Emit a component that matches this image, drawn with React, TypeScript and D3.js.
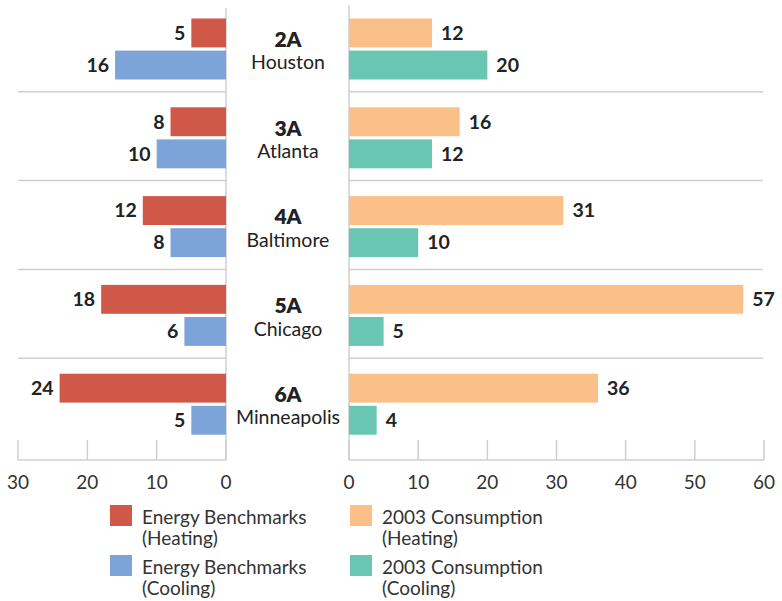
import React from "react";
import * as d3 from "d3";

const zones = ["2A", "3A", "4A", "5A", "6A"];
const cities = ["Houston", "Atlanta", "Baltimore", "Chicago", "Minneapolis"];
const benchHeating = [5, 8, 12, 18, 24];
const benchCooling = [16, 10, 8, 6, 5];
const consHeating = [12, 16, 31, 57, 36];
const consCooling = [20, 12, 10, 5, 4];
const leftTicks = [30, 20, 10, 0];
const rightTicks = [0, 10, 20, 30, 40, 50, 60];
const legendItems = [
  { l1: "Energy Benchmarks", l2: "(Heating)", color: "#cf5849" },
  { l1: "Energy Benchmarks", l2: "(Cooling)", color: "#7ca4d8" },
  { l1: "2003 Consumption", l2: "(Heating)", color: "#fbc088" },
  { l1: "2003 Consumption", l2: "(Cooling)", color: "#68c6b2" },
];

const W = 782;
const H = 601;
const FONT = "Lato, 'Noto Sans', sans-serif";
const GRID = "#cfcfcf";

export default function App() {
  const xL = d3.scaleLinear().domain([0, 30]).range([226, 18]);
  const xR = d3.scaleLinear().domain([0, 60]).range([349, 764]);
  const y = d3.scaleBand<string>().domain(zones).range([3, 447]).padding(0);
  const inner = d3
    .scaleBand<string>()
    .domain(["heat", "cool"])
    .range([15.5, 76.5])
    .paddingInner(0.1);
  const axisY = 460;
  const labelX = 288;

  return (
    <svg
      width={W}
      height={H}
      style={{ position: "absolute", left: 0, top: 0, background: "#fff" }}
      fontFamily={FONT}
    >
      {zones.slice(1).map((z) => (
        <g key={"sep" + z}>
          <line x1={18} x2={xL(0)} y1={y(z)!} y2={y(z)!} stroke={GRID} strokeWidth={1.5} />
          <line x1={xR(0)} x2={763} y1={y(z)!} y2={y(z)!} stroke={GRID} strokeWidth={1.5} />
        </g>
      ))}
      <line x1={xL(0)} x2={xL(0)} y1={8} y2={axisY} stroke={GRID} strokeWidth={1.5} />
      <line x1={xR(0)} x2={xR(0)} y1={5} y2={axisY} stroke={GRID} strokeWidth={1.5} />

      {zones.map((z, i) => {
        const y0 = y(z)!;
        const yh = y0 + inner("heat")!;
        const yc = y0 + inner("cool")!;
        const bh = inner.bandwidth();
        const c = y0 + y.bandwidth() / 2;
        return (
          <g key={z}>
            <rect x={xL(benchHeating[i])} y={yh} width={xL(0) - xL(benchHeating[i])} height={bh} fill={legendItems[0].color} />
            <rect x={xL(benchCooling[i])} y={yc} width={xL(0) - xL(benchCooling[i])} height={bh} fill={legendItems[1].color} />
            <rect x={xR(0)} y={yh} width={xR(consHeating[i]) - xR(0)} height={bh} fill={legendItems[2].color} />
            <rect x={xR(0)} y={yc} width={xR(consCooling[i]) - xR(0)} height={bh} fill={legendItems[3].color} />
            <text x={xL(benchHeating[i]) - 6} y={yh + bh / 2} dy="0.35em" textAnchor="end" fontSize={19.5} fontWeight={700} fill="#222">{benchHeating[i]}</text>
            <text x={xL(benchCooling[i]) - 6} y={yc + bh / 2} dy="0.35em" textAnchor="end" fontSize={19.5} fontWeight={700} fill="#222">{benchCooling[i]}</text>
            <text x={xR(consHeating[i]) + 9} y={yh + bh / 2} dy="0.35em" textAnchor="start" fontSize={19.5} fontWeight={700} fill="#222">{consHeating[i]}</text>
            <text x={xR(consCooling[i]) + 9} y={yc + bh / 2} dy="0.35em" textAnchor="start" fontSize={19.5} fontWeight={700} fill="#222">{consCooling[i]}</text>
            <text x={labelX} y={c - 8} dy="0.35em" textAnchor="middle" fontSize={21} fontWeight={800} fill="#222">{z}</text>
            <text x={labelX} y={c + 15} dy="0.35em" textAnchor="middle" fontSize={19.5} fill="#222">{cities[i]}</text>
          </g>
        );
      })}

      <line x1={xL(30)} x2={xL(0)} y1={axisY} y2={axisY} stroke={GRID} strokeWidth={1.5} />
      <line x1={xR(0)} x2={xR(60)} y1={axisY} y2={axisY} stroke={GRID} strokeWidth={1.5} />
      {leftTicks.map((t) => (
        <g key={"lt" + t}>
          <line x1={xL(t)} x2={xL(t)} y1={axisY - 20} y2={axisY} stroke={GRID} strokeWidth={1.5} />
          <text x={xL(t)} y={482} dy="0.35em" textAnchor="middle" fontSize={19} fill="#333">{t}</text>
        </g>
      ))}
      {rightTicks.map((t) => (
        <g key={"rt" + t}>
          <line x1={xR(t)} x2={xR(t)} y1={axisY - 20} y2={axisY} stroke={GRID} strokeWidth={1.5} />
          <text x={xR(t)} y={482} dy="0.35em" textAnchor="middle" fontSize={19} fill="#333">{t}</text>
        </g>
      ))}

      {legendItems.map((it, i) => {
        const col = i < 2 ? 0 : 1;
        const row = i % 2;
        const sx = col === 0 ? 110 : 350;
        const sy = row === 0 ? 505 : 555;
        return (
          <g key={"lg" + i}>
            <rect x={sx} y={sy} width={22} height={21} fill={it.color} />
            <text x={sx + 32} y={sy + 12} dy="0.35em" fontSize={19} fill="#333">{it.l1}</text>
            <text x={sx + 32} y={sy + 33} dy="0.35em" fontSize={19} fill="#333">{it.l2}</text>
          </g>
        );
      })}
    </svg>
  );
}
